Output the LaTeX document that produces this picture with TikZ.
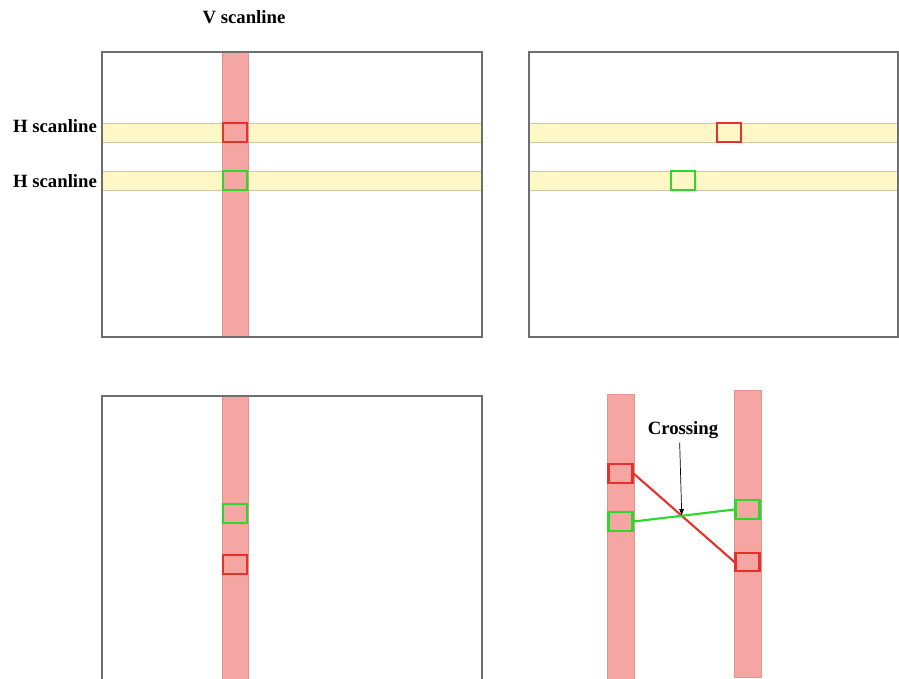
\documentclass[tikz,border=0pt]{standalone}
\usepackage{fontspec}
\setmainfont{Liberation Serif}
\usetikzlibrary{arrows.meta}
\definecolor{bandPink}{HTML}{F6A6A2}
\definecolor{bandPinkEdge}{HTML}{E0958F}
\definecolor{bandYellow}{HTML}{FFF7C6}
\definecolor{bandYellowEdge}{HTML}{CFC6A4}
\definecolor{boxRed}{HTML}{E5322B}
\definecolor{boxGreen}{HTML}{2BD92B}
\definecolor{panelGrey}{HTML}{6E6E6E}

\begin{document}
\begin{tikzpicture}[
  x=0.03cm, y=-0.03cm,
  >=Latex,
  font=\fontsize{16}{18}\selectfont\bfseries,
  panel/.style={draw=panelGrey, line width=1.4pt},
  vband/.style={fill=bandPink, draw=bandPinkEdge, line width=0.5pt},
  hband/.style={fill=bandYellow, draw=bandYellowEdge, line width=0.5pt},
  redbox/.style={draw=boxRed, line width=1.8pt, minimum width=0.72cm, minimum height=0.56cm, inner sep=0pt},
  greenbox/.style={draw=boxGreen, line width=1.8pt, minimum width=0.72cm, minimum height=0.56cm, inner sep=0pt},
  label/.style={text=black}
]
\useasboundingbox (0,0) rectangle (899,679);

% top left: both scanlines
\fill[white] (102,52) rectangle (482,337);
\foreach \y in {123,171} {
  \draw[hband] (102,\y) rectangle (482,\y+19);
}
\draw[vband] (222,52) rectangle (248,337);
\draw[panel] (102,52) rectangle (482,337);
\node[redbox] (tlred) at (235,132.5) {};
\node[greenbox] (tlgreen) at (235,180.5) {};
\node[label] (vlabel) at (244,17) {V scanline};
\node[label] (hlabelA) at (55,126) {H scanline};
\node[label] (hlabelB) at (55,181) {H scanline};

% top right: H scanlines only
\foreach \y in {123,171} {
  \draw[hband] (529,\y) rectangle (898,\y+19);
}
\draw[panel] (529,52) rectangle (898,337);
\node[redbox] (trred) at (729,132.5) {};
\node[greenbox] (trgreen) at (683,180.5) {};

% bottom left: V scanline only
\draw[vband] (222,395) rectangle (248,679);
\draw[panel] (102,679) -- (102,396) -- (482,396) -- (482,679);
\node[greenbox] (blgreen) at (235,513.5) {};
\node[redbox] (blred) at (235,564.5) {};

% bottom right: matching across two V scanlines
\draw[vband] (607,394) rectangle (634,679);
\draw[vband] (734,390) rectangle (761,677);
\node[redbox] (brredL) at (620.5,473.5) {};
\node[greenbox] (brgreenL) at (620.5,521.5) {};
\node[greenbox] (brgreenR) at (747.5,509.5) {};
\node[redbox] (brredR) at (747.5,562) {};
\draw[boxRed, line width=1.8pt] (brredL.east) -- (brredR.west);
\draw[boxGreen, line width=1.8pt] (brgreenL.east) -- (brgreenR.west);
\coordinate (cross) at (intersection of brredL.east--brredR.west and brgreenL.east--brgreenR.west);
\node[label] (crosslabel) at (683,430) {Crossing};
\draw[->, line width=0.6pt] ([xshift=-0.1cm]crosslabel.south) -- (cross);
\end{tikzpicture}
\end{document}
